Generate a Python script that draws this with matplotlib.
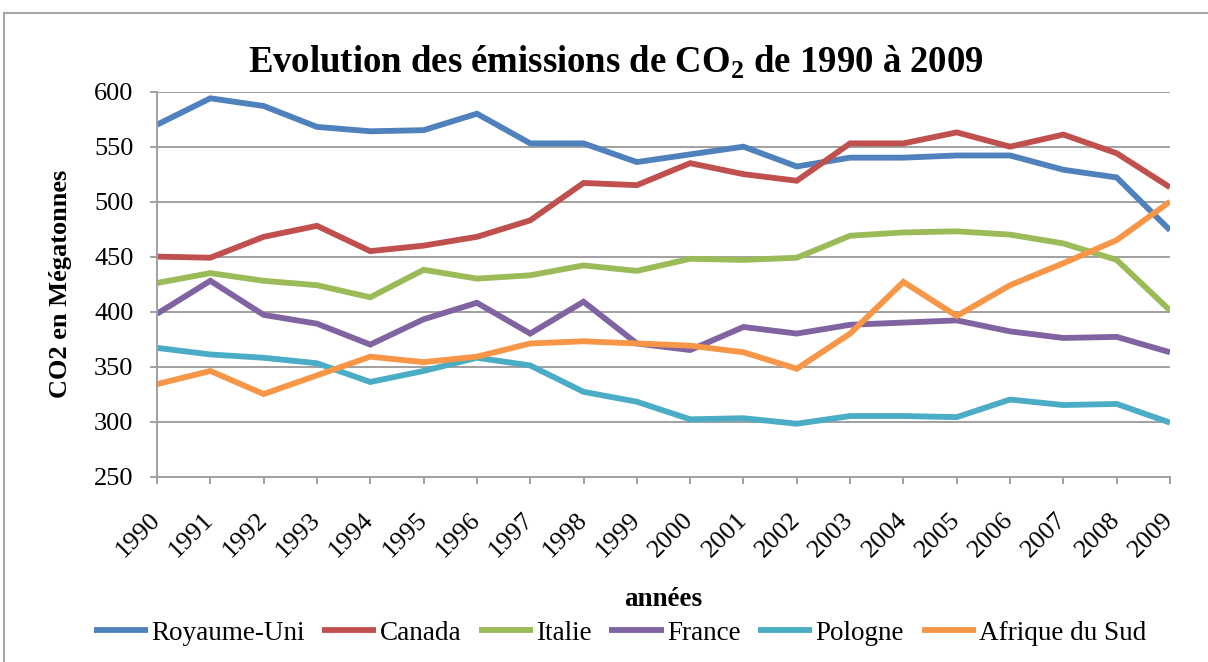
import matplotlib
matplotlib.use("Agg")
import matplotlib.pyplot as plt
from matplotlib.patches import Rectangle

years = list(range(1990, 2010))
royaume_uni = [570, 594, 587, 568, 564, 565, 580, 553, 553, 536, 543, 550, 532, 540, 540, 542, 542, 529, 522, 474]
canada = [450, 449, 468, 478, 455, 460, 468, 483, 517, 515, 535, 525, 519, 553, 553, 563, 550, 561, 544, 513]
italie = [426, 435, 428, 424, 413, 438, 430, 433, 442, 437, 448, 447, 449, 469, 472, 473, 470, 462, 447, 401]
france = [398, 428, 397, 389, 370, 393, 408, 380, 409, 371, 365, 386, 380, 388, 390, 392, 382, 376, 377, 363]
pologne = [367, 361, 358, 353, 336, 346, 358, 351, 327, 318, 302, 303, 298, 305, 305, 304, 320, 315, 316, 299]
afrique_du_sud = [334, 346, 325, 342, 359, 354, 359, 371, 373, 371, 369, 363, 348, 380, 427, 396, 424, 444, 465, 500]

series = [
    ("Royaume-Uni", royaume_uni, "#4F81BD"),
    ("Canada", canada, "#C0504D"),
    ("Italie", italie, "#9BBB59"),
    ("France", france, "#8064A2"),
    ("Pologne", pologne, "#4BACC6"),
    ("Afrique du Sud", afrique_du_sud, "#F79646"),
]
yticks = [250, 300, 350, 400, 450, 500, 550, 600]

W, H = 1208, 662
plt.rcParams['font.family'] = ['Liberation Serif', 'DejaVu Serif']
plt.rcParams['mathtext.fontset'] = 'custom'
plt.rcParams['mathtext.rm'] = 'Liberation Serif'
plt.rcParams['mathtext.bf'] = 'Liberation Serif:bold'
fig = plt.figure(figsize=(W / 100, H / 100), dpi=100)

# outer chart border
fig.patches.append(Rectangle((4 / W, -0.1), 1.2, 1 - 13 / H + 0.1, transform=fig.transFigure,
                             fill=False, edgecolor="#a6a6a6", linewidth=1.5))

left, right, top, bottom = 157, 1170, 91.7, 476.5
ax = fig.add_axes([left / W, 1 - bottom / H, (right - left) / W, (bottom - top) / H])

for name, vals, col in series:
    ax.plot(years, vals, color=col, lw=4.2, label=name, solid_joinstyle='miter', solid_capstyle='butt')

ax.set_xlim(1990, 2009)
ax.set_ylim(250, 600)
ax.set_yticks(yticks)
ax.set_xticks(years)
ax.grid(axis='y', color='#a0a0a0', lw=1.4)
ax.set_axisbelow(True)
for s in ['top', 'right']:
    ax.spines[s].set_visible(False)
for s in ['left', 'bottom']:
    ax.spines[s].set_color('#a0a0a0')
    ax.spines[s].set_linewidth(1.4)
ax.tick_params(axis='both', direction='out', length=5, width=1.4, color='#a0a0a0', labelsize=19)
ax.tick_params(axis='y', pad=12)
ax.tick_params(axis='x', pad=24)
for lab in ax.get_xticklabels():
    lab.set_rotation(45)
    lab.set_ha('right')
    lab.set_va('center')
    lab.set_rotation_mode('anchor')

fig.text(616 / W, 1 - 62 / H, r"Evolution des émissions de CO$_\mathbf{2}$ de 1990 à 2009",
         ha='center', va='center', fontsize=26.5, fontweight='bold')
fig.text(61 / W, 1 - 284 / H, "CO2 en Mégatonnes", rotation=90, ha='center', va='center',
         fontsize=19, fontweight='bold')
fig.text(663 / W, 1 - 600 / H, "années", ha='center', va='center', fontsize=19.5, fontweight='bold')

fig.legend(loc='center', bbox_to_anchor=(620 / W, 1 - 633 / H), ncol=6, frameon=False,
           fontsize=19.5, handlelength=2.0, handletextpad=0.12, columnspacing=0.65)

fig.savefig("out.png", dpi=100)
